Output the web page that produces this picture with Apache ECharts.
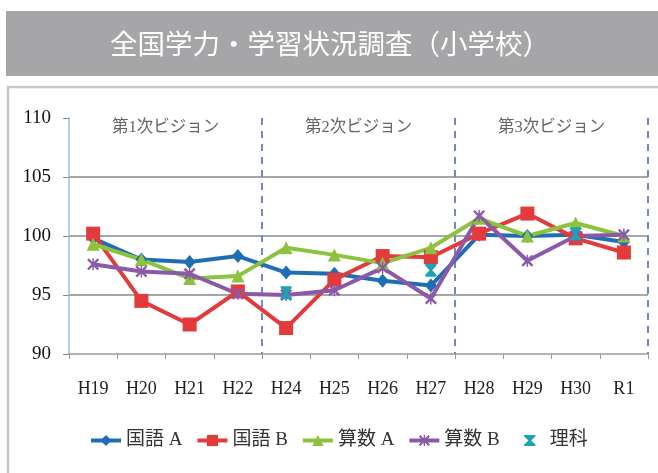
<!DOCTYPE html>
<html>
<head>
<meta charset="utf-8">
<script src="https://cdn.jsdelivr.net/npm/echarts@6/dist/echarts.min.js"></script>
<style>
  html, body { margin: 0; padding: 0; background: #fff; }
  #main { width: 658px; height: 473px; }
</style>
</head>
<body>
<div id="main"></div>
<script>
// 年度
const years = ['H19', 'H20', 'H21', 'H22', 'H24', 'H25', 'H26', 'H27', 'H28', 'H29', 'H30', 'R1']
// 全国平均を100とした値
const kokugoA = [99.8, 98.0, 97.8, 98.3, 96.9, 96.8, 96.2, 95.8, 100.1, 100.0, 100.1, 99.5]
const kokugoB = [100.2, 94.5, 92.5, 95.3, 92.2, 96.3, 98.3, 98.2, 100.2, 101.9, 99.8, 98.6]
const sansuA = [99.3, 98.0, 96.4, 96.6, 99.0, 98.4, 97.7, 99.0, 101.5, 100.0, 101.1, 100.0]
const sansuB = [97.6, 97.0, 96.8, 95.1, 95.0, 95.4, 97.3, 94.7, 101.7, 97.9, 100.0, 100.1]
const rika = [null, null, null, null, 95.2, null, null, 97.1, null, null, 100.2, null]
// ビジョン区分
const visionNames = ['第1次ビジョン', '第2次ビジョン', '第3次ビジョン']
const visionFrom = ['H19', 'H24', 'H28']
const visionTo = ['H22', 'H27', 'R1']

const serif = 'Liberation Serif, Noto Sans CJK JP'
const xMark = 'path://M0,1.4L1.4,0L5,3.6L8.6,0L10,1.4L6.4,5L10,8.6L8.6,10L5,6.4L1.4,10L0,8.6L3.6,5Z M4.4,0L5.6,0L5.6,10L4.4,10Z'
const hourglass = 'path://M0,0L10,0L10,1.5L6.2,5L10,8.5L10,10L0,10L0,8.5L3.8,5L0,1.5Z'

const myChart = echarts.init(document.getElementById('main'))

function lineSeries(name, data, color, symbol, size) {
  return {
    name: name,
    type: 'line',
    data: data,
    symbol: symbol,
    symbolSize: size,
    showSymbol: true,
    color: color,
    lineStyle: { width: 4, color: color },
    itemStyle: { color: color },
    animation: false
  }
}

const series = [
  lineSeries('国語 A', kokugoA, '#1f6db3', 'diamond', [12, 14]),
  lineSeries('国語 B', kokugoB, '#e23b3b', 'rect', 14),
  lineSeries('算数 A', sansuA, '#8dc23f', 'triangle', 13),
  lineSeries('算数 B', sansuB, '#8a5aa8', xMark, 12),
  {
    name: '理科',
    type: 'line',
    data: rika,
    symbol: hourglass,
    symbolSize: [11, 13],
    color: '#1aa3b5',
    itemStyle: { color: '#1aa3b5' },
    lineStyle: { width: 0, opacity: 0 },
    connectNulls: false,
    animation: false
  }
]

// ビジョン名（区分ごとの上部ラベル）
series[0].markArea = {
  silent: true,
  itemStyle: { color: 'rgba(0,0,0,0)' },
  label: {
    position: 'insideTop',
    distance: 1,
    color: '#666',
    fontFamily: serif,
    fontSize: 16.5
  },
  data: visionNames.map((n, i) => [
    { name: n, xAxis: visionFrom[i] },
    { xAxis: visionTo[i] }
  ])
}

myChart.setOption({
  backgroundColor: '#fff',
  animation: false,
  graphic: [
    {
      type: 'rect',
      shape: { x: 6, y: 11, width: 660, height: 65 },
      style: { fill: '#a6a6a8' },
      silent: true
    },
    {
      type: 'text',
      x: 330,
      y: 44,
      style: {
        text: '全国学力・学習状況調査（小学校）',
        fill: '#fff',
        font: '27.5px "Noto Sans CJK JP"',
        textAlign: 'center',
        textVerticalAlign: 'middle'
      },
      silent: true
    },
    {
      type: 'rect',
      shape: { x: 8, y: 87, width: 660, height: 400 },
      style: { fill: 'none', stroke: '#c8c8c8', lineWidth: 2.5 },
      silent: true
    }
  ],
  grid: { left: 69, right: 10, top: 118, bottom: 119 },
  legend: {
    left: 84,
    top: 426,
    itemWidth: 30,
    itemHeight: 14,
    itemGap: 13,
    lineStyle: { width: 4 },
    textStyle: { fontFamily: serif, fontSize: 19, color: '#333' },
    data: ['国語 A', '国語 B', '算数 A', '算数 B', '理科']
  },
  xAxis: {
    type: 'category',
    data: years,
    boundaryGap: true,
    axisLine: { lineStyle: { color: '#9a9a9a', width: 1.5 } },
    axisTick: { show: true, length: 5, lineStyle: { color: '#9a9a9a' } },
    axisLabel: { margin: 26, fontFamily: serif, fontSize: 18, color: '#222' },
    splitLine: {
      show: true,
      interval: (index) => index === 4 || index === 8,
      lineStyle: { color: '#7585c6', type: [7, 6], width: 2 }
    }
  },
  yAxis: {
    type: 'value',
    min: 90,
    max: 110,
    interval: 5,
    axisLine: { show: true, lineStyle: { color: '#9dc3e6', width: 1.5 } },
    axisTick: { show: true, length: 6, lineStyle: { color: '#888' } },
    axisLabel: { margin: 18, fontFamily: serif, fontSize: 19, color: '#111' },
    splitLine: {
      show: true,
      showMaxLine: false,
      showMinLine: false,
      lineStyle: { color: '#8a8a8a', width: 1.5 }
    }
  },
  series: series
})
</script>
</body>
</html>
